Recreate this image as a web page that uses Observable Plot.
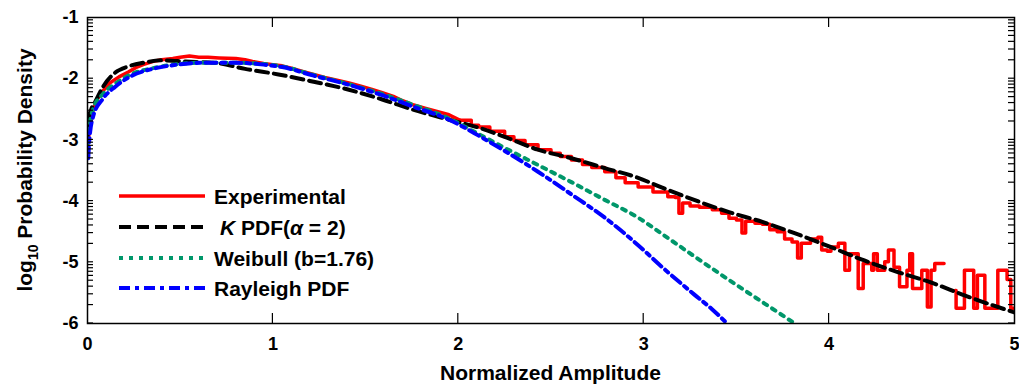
<!DOCTYPE html>
<html><head><meta charset="utf-8">
<script src="https://cdn.jsdelivr.net/npm/d3@7"></script>
<script src="https://cdn.jsdelivr.net/npm/@observablehq/plot@0.6"></script>
<style>body{margin:0;background:#fff;} svg{display:block}</style>
</head><body><div id="chart"></div>
<script>
// ---- data ----
const xTicks = [0, 1, 2, 3, 4, 5];
const xInnerTicks = [1, 2, 3, 4];
const yTicks = [-6, -5, -4, -3, -2, -1];
const xLabel = "Normalized Amplitude";
const yLabelMain = "log";
const yLabelSub = "10";
const yLabelRest = " Probability Density";

const expX = [0,0.01,0.02,0.03,0.05,0.08,0.12,0.17,0.22,0.26,0.30,0.35,0.40,0.46,0.50,0.55,0.60,0.65,0.71,0.80,0.85,0.89,0.95,1.00,1.05,1.10,1.16,1.22,1.28,1.34,1.41,1.47,1.53,1.59,1.65,1.70,1.76,1.82,1.88,1.95,2.01,2.07,2.11,2.17,2.25,2.30,2.36,2.43,2.50,2.55,2.61,2.67,2.72,2.79,2.85,2.90,2.97,3.05,3.13,3.17,3.19,3.21,3.25,3.30,3.37,3.42,3.46,3.50,3.53,3.55,3.60,3.64,3.68,3.72,3.76,3.80,3.83,3.85,3.90,3.94,3.96,3.99,4.01,4.05,4.085,4.11,4.157,4.184,4.23,4.24,4.26,4.30,4.32,4.35,4.38,4.42,4.435,4.45,4.50,4.53,4.55,4.57,4.62,4.63,4.68,4.685,4.73,4.78,4.80,4.84,4.91,4.96,4.98,5.00];
const expY = [-3.10,-2.85,-2.65,-2.51,-2.35,-2.21,-2.07,-1.97,-1.89,-1.82,-1.77,-1.72,-1.69,-1.67,-1.65,-1.63,-1.65,-1.65,-1.66,-1.67,-1.69,-1.72,-1.75,-1.77,-1.79,-1.83,-1.88,-1.93,-1.98,-2.02,-2.07,-2.12,-2.17,-2.23,-2.29,-2.36,-2.43,-2.48,-2.53,-2.59,-2.68,-2.76,-2.79,-2.86,-2.95,-3.01,-3.08,-3.16,-3.22,-3.27,-3.33,-3.40,-3.45,-3.52,-3.62,-3.70,-3.77,-3.85,-3.93,-3.94,-4.20,-4.03,-4.08,-4.10,-4.14,-4.20,-4.28,-4.31,-4.52,-4.33,-4.36,-4.38,-4.47,-4.50,-4.62,-4.67,-4.93,-4.69,-4.62,-4.59,-4.80,-4.82,-4.75,-4.69,-5.13,-4.86,-5.43,-5.02,-5.13,-4.86,-5.13,-4.99,-4.80,-5.08,-5.40,-5.13,-4.86,-5.43,-5.13,-5.73,-5.13,-5.02,-5.02,null,-5.46,-5.75,-5.13,-5.75,-5.21,-5.75,-5.13,-5.28,-5.75,-5.75];
// where the experimental histogram turns from smooth to stair-stepped
const expStepFrom = 2.01;

const kX = [0.000,0.005,0.02,0.04,0.08,0.15,0.22,0.30,0.40,0.53,0.71,0.85,1.03,1.22,1.41,1.59,1.76,1.95,2.11,2.25,2.43,2.61,2.79,2.97,3.10,3.28,3.46,3.64,3.81,4.00,4.19,4.37,4.55,4.73,4.88,5.00];
const kY = [-2.95,-2.67,-2.50,-2.39,-2.15,-1.90,-1.80,-1.74,-1.70,-1.72,-1.75,-1.84,-1.93,-2.05,-2.18,-2.34,-2.51,-2.67,-2.80,-2.95,-3.16,-3.30,-3.46,-3.62,-3.78,-3.99,-4.18,-4.34,-4.52,-4.74,-4.97,-5.16,-5.33,-5.54,-5.70,-5.82];

const wbX = [0.004,0.01,0.03,0.08,0.15,0.24,0.35,0.46,0.62,0.80,0.95,1.05,1.22,1.41,1.59,1.76,1.95,2.07,2.25,2.43,2.61,2.79,2.97,3.11,3.31,3.50,3.65,3.815];
const wbY = [-3.05,-2.80,-2.50,-2.26,-2.08,-1.92,-1.83,-1.77,-1.74,-1.74,-1.76,-1.80,-1.94,-2.09,-2.25,-2.43,-2.65,-2.84,-3.13,-3.41,-3.69,-3.98,-4.27,-4.56,-4.98,-5.37,-5.67,-6.0];

const rlX = [0.004,0.01,0.03,0.08,0.15,0.24,0.35,0.46,0.62,0.80,0.95,1.05,1.22,1.41,1.59,1.76,1.95,2.11,2.25,2.43,2.61,2.79,2.97,3.10,3.27,3.37,3.45];
const rlY = [-3.30,-3.00,-2.62,-2.34,-2.13,-1.95,-1.84,-1.78,-1.74,-1.74,-1.77,-1.81,-1.95,-2.10,-2.27,-2.46,-2.67,-2.93,-3.18,-3.52,-3.89,-4.27,-4.72,-5.08,-5.52,-5.77,-6.0];

const seriesNames = ["Experimental", "K PDF", "Weibull (b=1.76)", "Rayleigh PDF"];
const seriesColors = ["#ff0000", "#000000", "#00976a", "#0000ff"];
const seriesDash = [null, "12,6", "4,6", "11,5,4,5"];
const seriesWidth = [3.5, 4, 4, 4];

// ---- build tables ----
const zipXY = (xs, ys) => xs.map((x, i) => ({x, y: ys[i]}));
const exp = zipXY(expX, expY);
const expSmooth = exp.filter(d => d.x <= expStepFrom);
const expSteps = exp.filter(d => d.x >= expStepFrom);
const kpdf = zipXY(kX, kY);
const weib = zipXY(wbX, wbY);
const rayl = zipXY(rlX, rlY);

// log-style minor ticks inside each decade
const yMinor = [];
for (let n = -6; n <= -2; n++) for (let k = 1; k <= 9; k++) yMinor.push(n + Math.log10(k));

const FONT = "'Liberation Sans', Arial, Helvetica, sans-serif";
const W = 1019, H = 385, ML = 87, MR = 5, MT = 17, MB = 62;
const YT = 6, XT = 10;

const plot = Plot.plot({
  width: W, height: H,
  marginLeft: ML, marginRight: MR, marginTop: MT, marginBottom: MB,
  x: {domain: [0, 5]},
  y: {domain: [-6, -1]},
  style: {fontFamily: FONT, fontWeight: "bold", background: "white", color: "black"},
  marks: [
    Plot.line(expSmooth, {x: "x", y: "y", stroke: seriesColors[0], strokeWidth: seriesWidth[0], clip: true}),
    Plot.line(expSteps, {x: "x", y: "y", curve: "step-after", stroke: seriesColors[0], strokeWidth: seriesWidth[0], clip: true}),
    Plot.line(kpdf, {x: "x", y: "y", curve: "monotone-x", stroke: seriesColors[1], strokeWidth: seriesWidth[1], strokeDasharray: seriesDash[1], clip: true}),
    Plot.line(weib, {x: "x", y: "y", curve: "monotone-x", stroke: seriesColors[2], strokeWidth: seriesWidth[2], strokeDasharray: seriesDash[2], clip: true}),
    Plot.line(rayl, {x: "x", y: "y", curve: "monotone-x", stroke: seriesColors[3], strokeWidth: seriesWidth[3], strokeDasharray: seriesDash[3], clip: true}),
    Plot.frame({stroke: "black", strokeWidth: 1.5}),
    Plot.axisX({ticks: xTicks, tickSize: 0, tickPadding: 14, fontSize: 18, tickFormat: d => String(d), label: null}),
    Plot.axisY({ticks: yTicks, tickSize: 0, tickPadding: 9, fontSize: 18, tickFormat: d => String(d), label: null})
  ]
});

document.getElementById("chart").appendChild(plot);
const svg = d3.select(plot);
const sx = plot.scale("x"), sy = plot.scale("y");
const x0 = sx.apply(0), x5 = sx.apply(5), yTop = sy.apply(-1), yBot = sy.apply(-6);

// inward MATLAB-style ticks placed through Plot's own scales
const tg = svg.append("g").attr("stroke", "black").attr("stroke-width", 1.2);
xInnerTicks.forEach(v => {
  const px = sx.apply(v);
  tg.append("line").attr("x1", px).attr("x2", px).attr("y1", yBot).attr("y2", yBot - XT);
  tg.append("line").attr("x1", px).attr("x2", px).attr("y1", yTop).attr("y2", yTop + XT);
});
yMinor.forEach(v => {
  const py = sy.apply(v);
  tg.append("line").attr("x1", x0).attr("x2", x0 + YT).attr("y1", py).attr("y2", py);
  tg.append("line").attr("x1", x5).attr("x2", x5 - YT).attr("y1", py).attr("y2", py);
});

// axis titles
svg.append("text")
  .attr("x", (x0 + x5) / 2).attr("y", 380)
  .attr("text-anchor", "middle")
  .attr("font-family", FONT).attr("font-weight", "bold").attr("font-size", 21)
  .text(xLabel);

const yl = svg.append("text")
  .attr("transform", `translate(32,${(yTop + yBot) / 2}) rotate(-90)`)
  .attr("text-anchor", "middle")
  .attr("font-family", FONT).attr("font-weight", "bold").attr("font-size", 21);
yl.append("tspan").text(yLabelMain);
yl.append("tspan").attr("font-size", 14).attr("dy", 6).text(yLabelSub);
yl.append("tspan").attr("dy", -6).text(yLabelRest);

// legend
const lg = svg.append("g").attr("font-family", FONT).attr("font-weight", "bold")
  .attr("font-size", 21).attr("text-anchor", "start");
const rowY = [196, 227, 258, 288];
seriesNames.forEach((name, i) => {
  lg.append("line")
    .attr("x1", 119).attr("x2", 205).attr("y1", rowY[i]).attr("y2", rowY[i])
    .attr("stroke", seriesColors[i]).attr("stroke-width", seriesWidth[i])
    .attr("stroke-dasharray", seriesDash[i]);
  const t = lg.append("text").attr("text-anchor", "start")
    .attr("x", i === 1 ? 220 : 214).attr("y", rowY[i] + 7.5);
  if (i === 1) {
    t.append("tspan").attr("font-style", "italic").text("K");
    t.append("tspan").text(" PDF(");
    t.append("tspan").attr("font-style", "italic").text("α");
    t.append("tspan").text(" = 2)");
  } else {
    t.text(name);
  }
});
</script>
</body></html>
